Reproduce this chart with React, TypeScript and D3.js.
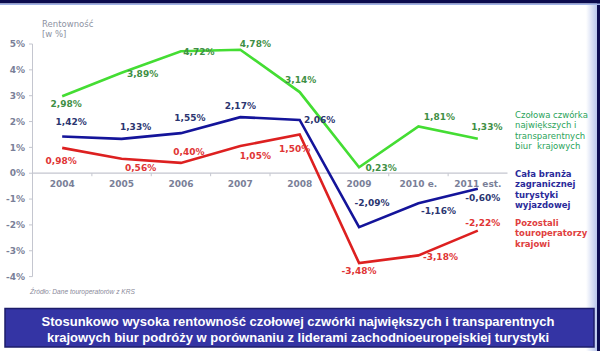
import React from "react";
import * as d3 from "d3";

const years = ["2004", "2005", "2006", "2007", "2008", "2009", "2010 e.", "2011 est."];
const topFour = [2.98, 3.89, 4.72, 4.78, 3.14, 0.23, 1.81, 1.33];
const wholeIndustry = [1.42, 1.33, 1.55, 2.17, 2.06, -2.09, -1.16, -0.6];
const others = [0.98, 0.56, 0.4, 1.05, 1.5, -3.48, -3.18, -2.22];
const yTicks = [5, 4, 3, 2, 1, 0, -1, -2, -3, -4];

const greenOffsets: [number, number][] = [[4, 8], [21, 1], [18, 1], [15, -6], [1, -12], [22, 1], [21, -10], [9, -12]];
const blueOffsets: [number, number][] = [[9, -15], [14, -12], [9, -15], [0, -11], [20, 0], [13, -24], [20, 8], [5, 9]];
const redOffsets: [number, number][] = [[-1, 13], [19, 9], [8, -11], [15, 10], [-5, 14], [0, 8], [22, 1], [5, -8]];

const legendGreen = ["Czołowa czwórka", "największych i", "transparentnych", "biur  krajowych"];
const legendBlue = ["Cała branża", "zagranicznej", "turystyki", "wyjazdowej"];
const legendRed = ["Pozostali", "touroperatorzy", "krajowi"];
const bannerLines = [
  "Stosunkowo wysoka rentowność czołowej czwórki największych i transparentnych",
  "krajowych biur podróży w porównaniu z liderami zachodnioeuropejskiej turystyki",
];

const fmt = (v: number) => d3.format(".2f")(v).replace(".", ",").replace("−", "-") + "%";

export default function App() {
  const x = d3.scaleBand<string>().domain(years).range([32.5, 507.5]).padding(0);
  const y = d3.scaleLinear().domain([-4, 5]).range([276.6, 44]);
  const cx = (i: number) => (x(years[i]) as number) + x.bandwidth() / 2;
  const line = d3
    .line<number>()
    .x((_, i) => cx(i))
    .y((d) => y(d));

  const font = "'DejaVu Sans', Verdana, sans-serif";
  const series = [
    { data: topFour, color: "#44dd33", label: "#3f8f45", offs: greenOffsets },
    { data: wholeIndustry, color: "#14149a", label: "#2b3570", offs: blueOffsets },
    { data: others, color: "#dd2020", label: "#e03535", offs: redOffsets },
  ];

  return (
    <svg width={600} height={351} style={{ position: "absolute", left: 0, top: 0 }}>
      <defs>
        <linearGradient id="edge" x1="0" x2="1" y1="0" y2="0">
          <stop offset="0" stopColor="#ffffff" />
          <stop offset="1" stopColor="#b9c6ec" />
        </linearGradient>
      </defs>
      <rect x={0} y={0} width={600} height={351} fill="#ffffff" />
      <rect x={586} y={0} width={11} height={351} fill="url(#edge)" />
      <rect x={597} y={0} width={3} height={351} fill="#0d0d52" />
      <rect x={0} y={0} width={600} height={3.5} fill="#0b0b4e" />
      <rect x={0} y={3.5} width={600} height={1.5} fill="#9fb2e6" />

      {/* axis title */}
      <text x={42} y={27} fontFamily={font} fontSize={8.5} fill="#8d92a2">Rentowność</text>
      <text x={42} y={37} fontFamily={font} fontSize={8.5} fill="#8d92a2">[w %]</text>

      {/* y axis */}
      <line x1={32.5} x2={32.5} y1={y(5)} y2={y(-4)} stroke="#c4c6cf" strokeWidth={1} />
      {yTicks.map((t) => (
        <g key={t}>
          <line x1={29} x2={32.5} y1={y(t)} y2={y(t)} stroke="#c4c6cf" strokeWidth={1} />
          <text x={25} y={y(t)} dy="0.35em" textAnchor="end" fontFamily={font} fontSize={9} fontWeight="bold" fill="#7a7f98">
            {t + "%"}
          </text>
        </g>
      ))}

      {/* x axis */}
      <line x1={32.5} x2={507.5} y1={y(0)} y2={y(0)} stroke="#c4c6cf" strokeWidth={1.2} />
      {years.map((yr, i) => (
        <g key={yr}>
          {i > 0 && (
            <line x1={x(yr) as number} x2={x(yr) as number} y1={y(0)} y2={y(0) + 3} stroke="#c4c6cf" />
          )}
          <text x={cx(i)} y={y(0) + 11} dy="0.35em" textAnchor="middle" fontFamily={font} fontSize={9} fontWeight="bold" fill="#7a7f98">
            {yr}
          </text>
        </g>
      ))}

      {/* lines */}
      {series.map((s, k) => (
        <path key={k} d={line(s.data) || ""} fill="none" stroke={s.color} strokeWidth={2.6} strokeLinejoin="miter" />
      ))}

      {/* value labels */}
      {series.map((s, k) =>
        s.data.map((v, i) => (
          <text
            key={k + "-" + i}
            x={cx(i) + s.offs[i][0]}
            y={y(v) + s.offs[i][1]}
            dy="0.35em"
            textAnchor="middle"
            fontFamily={font}
            fontSize={9}
            fontWeight="bold"
            fill={s.label}
          >
            {fmt(v)}
          </text>
        ))
      )}

      {/* legends */}
      {legendGreen.map((t, i) => (
        <text key={"g" + i} x={515} y={115 + i * 10.4} dy="0.35em" fontFamily={font} fontSize={8.5} fill="#2aa35a" xmlSpace="preserve">
          {t}
        </text>
      ))}
      {legendBlue.map((t, i) => (
        <text key={"b" + i} x={515} y={174 + i * 10.4} dy="0.35em" fontFamily={font} fontSize={8.5} fontWeight="bold" fill="#2a2a9a">
          {t}
        </text>
      ))}
      {legendRed.map((t, i) => (
        <text key={"r" + i} x={515} y={223 + i * 10.4} dy="0.35em" fontFamily={font} fontSize={8.5} fontWeight="bold" fill="#e04040">
          {t}
        </text>
      ))}

      {/* source */}
      <text x={30} y={292} dy="0.35em" fontFamily="'Liberation Sans', Arial, sans-serif" fontSize={6.6} fontStyle="italic" fill="#8a8a9a">
        Źródło: Dane touroperatorów z KRS
      </text>

      {/* banner */}
      <rect x={5} y={308.5} width={589} height={38.5} fill="#3434a4" stroke="#1c1c6a" strokeWidth={1.5} />
      {bannerLines.map((t, i) => (
        <text
          key={"bn" + i}
          x={298}
          y={321 + i * 16}
          dy="0.35em"
          textAnchor="middle"
          fontFamily="'Liberation Sans', Arial, sans-serif"
          fontSize={13}
          fontWeight="bold"
          fill="#ffffff"
        >
          {t}
        </text>
      ))}
    </svg>
  );
}
